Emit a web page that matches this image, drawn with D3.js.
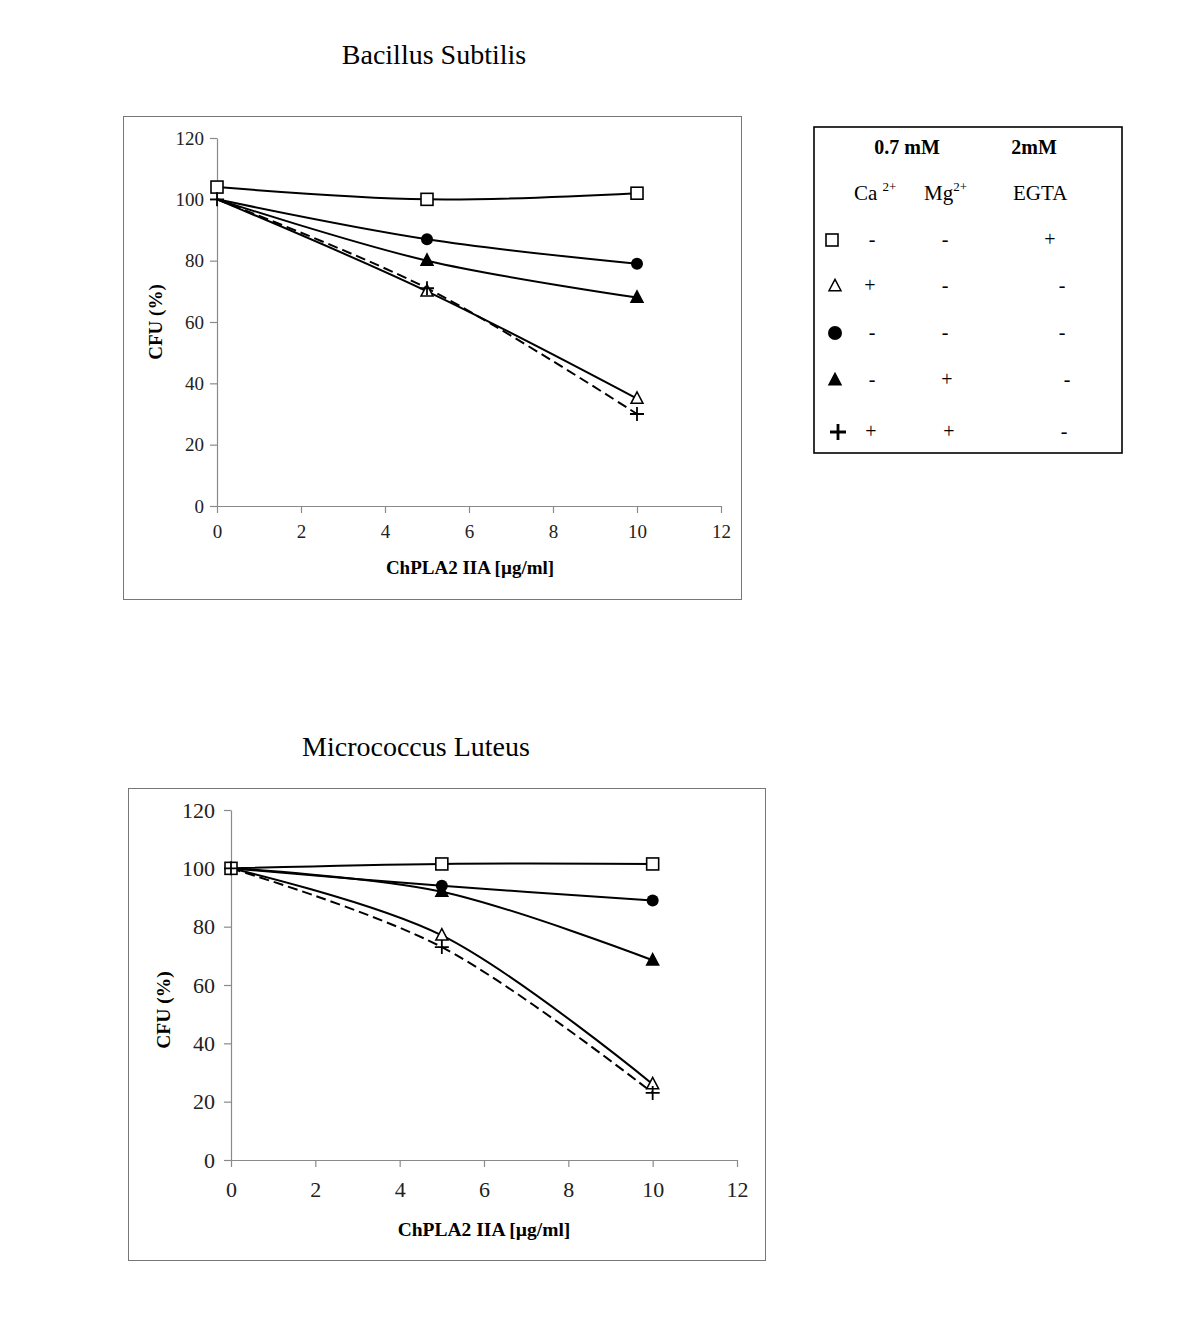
<!DOCTYPE html>
<html><head><meta charset="utf-8">
<script src="https://cdn.jsdelivr.net/npm/d3@7"></script>
<style>body{margin:0;background:#fff;}text{font-family:"Liberation Serif","Times New Roman",serif;}</style>
</head><body>
<script>
const xValues = [0, 5, 10];
const seriesKeys = ["egta", "ca", "none", "mg", "camg"];
const seriesMarkers = ["square", "triangleOpen", "circle", "triangleFilled", "plus"];
const seriesDashed = [false, false, false, false, true];
const markerAtZero = [true, false, false, false, true];

const bacillusTitle = "Bacillus Subtilis";
const bacillusEgta = [104, 100, 102];
const bacillusCa = [100, 70, 35];
const bacillusNone = [100, 87, 79];
const bacillusMg = [100, 80, 68];
const bacillusCaMg = [100, 71, 30];

const micrococcusTitle = "Micrococcus Luteus";
const micrococcusEgta = [100, 101.5, 101.5];
const micrococcusCa = [100, 77, 26];
const micrococcusNone = [100, 94, 89];
const micrococcusMg = [100, 92, 68.5];
const micrococcusCaMg = [100, 73, 23];

const xTicks = [0, 2, 4, 6, 8, 10, 12];
const yTicks = [0, 20, 40, 60, 80, 100, 120];
const xTitle = "ChPLA2 IIA [µg/ml]";
const yTitle = "CFU (%)";

const legendHeaders = ["0.7 mM", "2mM"];
const legendColumns = ["Ca", "Mg", "EGTA"];
const legendCa = ["-", "+", "-", "-", "+"];
const legendMg = ["-", "-", "-", "+", "+"];
const legendEgta = ["+", "-", "-", "-", "-"];

const svg = d3.select("body").append("svg").attr("width", 1200).attr("height", 1334);

function drawMarker(g, type, x, y, s) {
  if (type === "square") {
    g.append("rect").attr("x", x - s/2).attr("y", y - s/2).attr("width", s).attr("height", s)
      .attr("fill", "#fff").attr("stroke", "#000").attr("stroke-width", 1.6);
  } else if (type === "circle") {
    g.append("circle").attr("cx", x).attr("cy", y).attr("r", s/2).attr("fill", "#000");
  } else if (type === "triangleOpen" || type === "triangleFilled") {
    const h = s * 0.95;
    const pts = [[x, y - h/2 - 1], [x - s/2, y + h/2 - 1], [x + s/2, y + h/2 - 1]];
    g.append("path").attr("d", "M" + pts.map(p => p.join(",")).join("L") + "Z")
      .attr("fill", type === "triangleFilled" ? "#000" : "#fff")
      .attr("stroke", "#000").attr("stroke-width", 1.5);
  } else if (type === "plus") {
    const r = s/2 + 1;
    g.append("path").attr("d", `M${x - r},${y}H${x + r}M${x},${y - r}V${y + r}`)
      .attr("stroke", "#000").attr("stroke-width", 1.8).attr("fill", "none");
  }
}

function drawChart(cfg) {
  const g = svg.append("g");
  g.append("rect").attr("x", cfg.box[0]).attr("y", cfg.box[1]).attr("width", cfg.box[2]).attr("height", cfg.box[3])
    .attr("fill", "none").attr("stroke", "#777").attr("stroke-width", 1);
  g.append("text").attr("x", cfg.titleX).attr("y", cfg.titleY).attr("text-anchor", "middle")
    .attr("font-size", cfg.titleSize).text(cfg.title);

  const x = d3.scaleLinear().domain([0, 12]).range([cfg.x0, cfg.x1]);
  const y = d3.scaleLinear().domain([0, 120]).range([cfg.y0, cfg.y1]);

  const xAxis = g.append("g").attr("transform", `translate(0,${cfg.y0})`)
    .call(d3.axisBottom(x).tickValues(xTicks).tickSize(7).tickSizeOuter(0).tickPadding(cfg.xPad));
  const yAxis = g.append("g").attr("transform", `translate(${cfg.x0},0)`)
    .call(d3.axisLeft(y).tickValues(yTicks).tickSize(7).tickSizeOuter(0).tickPadding(cfg.yPad));
  [xAxis, yAxis].forEach(a => {
    a.selectAll("path, line").attr("stroke", "#8a8a8a").attr("stroke-width", 1.2);
    a.selectAll("text").attr("font-size", cfg.tickSize).attr("fill", "#222")
      .style("font-family", '"Liberation Serif","Times New Roman",serif');
  });

  g.append("text").attr("x", cfg.xTitleX).attr("y", cfg.xTitleY).attr("text-anchor", "middle")
    .attr("font-size", cfg.axisTitleSize).attr("font-weight", "bold").text(xTitle);
  g.append("text").attr("transform", `translate(${cfg.yTitleX},${cfg.yTitleY}) rotate(-90)`)
    .attr("text-anchor", "middle").attr("font-size", cfg.axisTitleSize).attr("font-weight", "bold").text(yTitle);

  const line = d3.line().x(d => x(d[0])).y(d => y(d[1])).curve(d3.curveCatmullRom.alpha(0.5));
  cfg.series.forEach((vals, i) => {
    const pts = xValues.map((xv, j) => [xv, vals[j]]);
    g.append("path").attr("d", line(pts)).attr("fill", "none").attr("stroke", "#000")
      .attr("stroke-width", 2).attr("stroke-dasharray", seriesDashed[i] ? "10,5" : null);
  });
  cfg.series.forEach((vals, i) => {
    xValues.forEach((xv, j) => {
      if (j === 0 && !markerAtZero[i]) return;
      drawMarker(g, seriesMarkers[i], x(xv), y(vals[j]), 12);
    });
  });
}

drawChart({
  title: bacillusTitle, titleX: 434, titleY: 64, titleSize: 28,
  box: [123.5, 116.5, 618, 483],
  x0: 217, x1: 721, y0: 506, y1: 138,
  tickSize: 19, xPad: 12, yPad: 6,
  xTitleX: 470, xTitleY: 574, yTitleX: 162, yTitleY: 322, axisTitleSize: 19,
  series: [bacillusEgta, bacillusCa, bacillusNone, bacillusMg, bacillusCaMg]
});

drawChart({
  title: micrococcusTitle, titleX: 416, titleY: 756, titleSize: 28,
  box: [128.5, 788.5, 637, 472],
  x0: 231, x1: 737, y0: 1160, y1: 810,
  tickSize: 22, xPad: 14, yPad: 9,
  xTitleX: 484, xTitleY: 1236, yTitleX: 170, yTitleY: 1010, axisTitleSize: 19.5,
  series: [micrococcusEgta, micrococcusCa, micrococcusNone, micrococcusMg, micrococcusCaMg]
});

// Legend
const lg = svg.append("g");
lg.append("rect").attr("x", 814).attr("y", 127).attr("width", 308).attr("height", 326)
  .attr("fill", "none").attr("stroke", "#000").attr("stroke-width", 1.6);
lg.append("text").attr("x", 907).attr("y", 154).attr("text-anchor", "middle").attr("font-size", 20)
  .attr("font-weight", "bold").text(legendHeaders[0]);
lg.append("text").attr("x", 1034).attr("y", 154).attr("text-anchor", "middle").attr("font-size", 20)
  .attr("font-weight", "bold").text(legendHeaders[1]);
const ca = lg.append("text").attr("x", 854).attr("y", 200).attr("font-size", 21);
ca.append("tspan").text(legendColumns[0] + " ");
ca.append("tspan").attr("dy", -9).attr("font-size", 13).text("2+");
const mg = lg.append("text").attr("x", 924).attr("y", 200).attr("font-size", 21);
mg.append("tspan").text(legendColumns[1]);
mg.append("tspan").attr("dy", -9).attr("font-size", 13).text("2+");
lg.append("text").attr("x", 1013).attr("y", 200).attr("font-size", 21).text(legendColumns[2]);

const rowY = [240, 286, 333, 380, 432];
const caX = [872, 870, 872, 872, 871];
const mgX = [945, 945, 945, 947, 949];
const egX = [1050, 1062, 1062, 1067, 1064];
seriesMarkers.forEach((m, i) => {
  if (m === "plus") {
    lg.append("path").attr("d", `M${830},${rowY[i]}H${846}M${838},${rowY[i]-8}V${rowY[i]+8}`)
      .attr("stroke", "#000").attr("stroke-width", 2.8);
  } else {
    drawMarker(lg, m, m === "square" ? 832 : 835, rowY[i], m === "circle" ? 14 : 12);
  }
  [[legendCa, caX], [legendMg, mgX], [legendEgta, egX]].forEach(([arr, xs]) => {
    lg.append("text").attr("x", xs[i]).attr("y", rowY[i] + 6).attr("text-anchor", "middle")
      .attr("font-size", 20).text(arr[i]);
  });
});
</script>
</body></html>
